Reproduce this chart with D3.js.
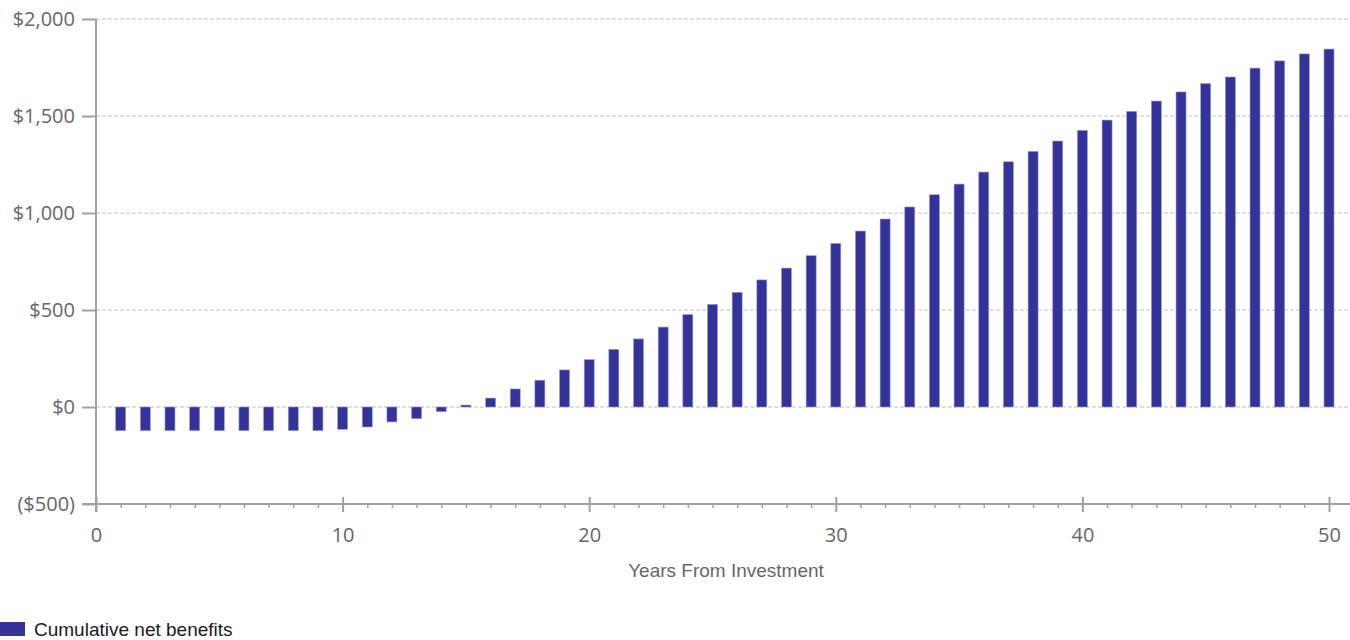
<!DOCTYPE html>
<html><head><meta charset="utf-8">
<script src="https://cdn.jsdelivr.net/npm/d3@7"></script>
<style>html,body{margin:0;padding:0;background:#fff;}svg{display:block;}</style>
</head><body>
<svg id="chart" width="1350" height="640"></svg>
<script>
const years = d3.range(1, 51);
const netBenefits = [
  -122, -122, -122, -122, -122, -122, -122, -122, -122, -115,
  -103, -77, -60, -24, 10, 46, 93, 138, 191, 244,
  297, 351, 412, 476, 529, 591, 655, 716, 780, 843,
  907, 969, 1031, 1094, 1149, 1211, 1264, 1318, 1371, 1426,
  1479, 1524, 1577, 1624, 1667, 1701, 1747, 1784, 1820, 1845
];
const yTicks = [-500, 0, 500, 1000, 1500, 2000];
const xTicks = [0, 10, 20, 30, 40, 50];
const seriesName = "Cumulative net benefits";
const xTitle = "Years From Investment";

const svg = d3.select("#chart");
const x = d3.scaleLinear().domain([0, 50]).range([96, 1329]);
const y = d3.scaleLinear().domain([-500, 2000]).range([504, 19]);
const fmt = v => v < 0 ? "($" + d3.format(",")(-v) + ")" : "$" + d3.format(",")(v);
const axisColor = "#a0a0a0";
const labelColor = "#666666";
const font = "'Open Sans', 'Noto Sans', sans-serif";
const font2 = "'Liberation Sans', Arial, sans-serif";

// gridlines
svg.append("g").selectAll("line").data(yTicks.filter(d => d > -500)).join("line")
  .attr("x1", 96).attr("x2", 1350)
  .attr("y1", d => y(d)).attr("y2", d => y(d))
  .attr("stroke", "#c0c0c0").attr("stroke-width", 1).attr("stroke-dasharray", "4,2");

// bars
const bw = 10;
svg.append("g").selectAll("rect").data(years).join("rect")
  .attr("x", (d) => x(d) - bw / 2)
  .attr("width", bw)
  .attr("y", (d, i) => y(Math.max(0, netBenefits[i])))
  .attr("height", (d, i) => Math.abs(y(netBenefits[i]) - y(0)))
  .attr("fill", "#333399")
  .attr("stroke", "#9a9ad0").attr("stroke-width", 0.6);

// y axis
const yAxis = d3.axisLeft(y).tickValues(yTicks).tickFormat(fmt).tickSize(14).tickPadding(7);
const gy = svg.append("g").attr("transform", "translate(96,0)").call(yAxis);
gy.select(".domain").remove();
gy.append("line").attr("x1", 0).attr("x2", 0).attr("y1", 19).attr("y2", 512)
  .attr("stroke", axisColor).attr("stroke-width", 2);
gy.selectAll(".tick line").attr("stroke", axisColor).attr("stroke-width", 2);
gy.selectAll(".tick text").attr("fill", labelColor).style("font-family", font).style("font-size", "20px");

// x axis minor ticks
const xMinor = d3.axisBottom(x).tickValues(years.filter(d => d % 10 !== 0)).tickSize(4).tickFormat("");
const gxm = svg.append("g").attr("transform", "translate(0,504)").call(xMinor);
gxm.select(".domain").remove();
gxm.selectAll(".tick line").attr("stroke", axisColor).attr("stroke-width", 1.5);

// x axis major
const xAxis = d3.axisBottom(x).tickValues(xTicks).tickSize(8).tickPadding(16);
const gx = svg.append("g").attr("transform", "translate(0,504)").call(xAxis);
gx.select(".domain").remove();
gx.append("line").attr("x1", 82).attr("x2", 1350).attr("y1", 0).attr("y2", 0)
  .attr("stroke", axisColor).attr("stroke-width", 2);
gx.selectAll(".tick line").attr("y1", -7).attr("stroke", axisColor).attr("stroke-width", 2);
gx.selectAll(".tick text").attr("fill", labelColor).style("font-family", font).style("font-size", "20px");

// x title
svg.append("text").attr("x", 726).attr("y", 577).attr("text-anchor", "middle")
  .attr("fill", labelColor).style("font-family", font2).style("font-size", "19px").text(xTitle);

// legend
svg.append("rect").attr("x", 0).attr("y", 622).attr("width", 25).attr("height", 14).attr("fill", "#333399");
svg.append("text").attr("x", 34).attr("y", 636).attr("fill", "#1a1a1a")
  .style("font-family", font2).style("font-size", "19px").text(seriesName);
</script>
</body></html>
